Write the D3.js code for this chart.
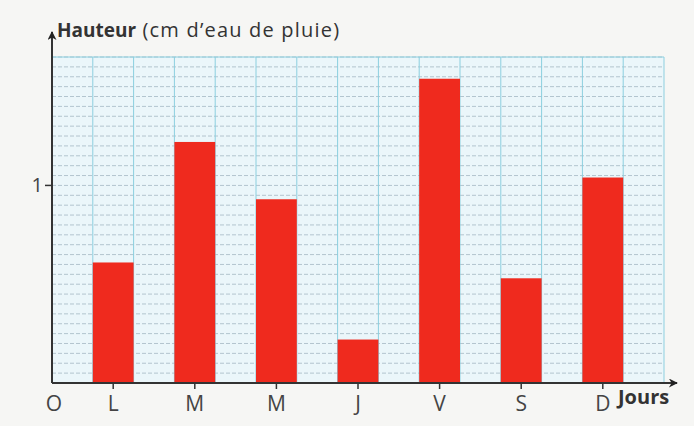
<!DOCTYPE html>
<html>
<head>
<meta charset="utf-8">
<script src="https://cdn.jsdelivr.net/npm/d3@7"></script>
<style>
  body { margin: 0; background: #f6f6f4; }
  svg { display: block; font-family: "Open Sans", "Noto Sans", sans-serif; }
</style>
</head>
<body>
<div id="chart-area"></div>
<script>
// jours de la semaine et hauteur de pluie (cm)
let days = ["Lundi", "Mardi", "Mercredi", "Jeudi", "Vendredi", "Samedi", "Dimanche"];
let dayLabels = ["L", "M", "M", "J", "V", "S", "D"];
let rain = [0.61, 1.22, 0.93, 0.22, 1.54, 0.53, 1.04];
let yTicks = [1];

let width = 694, height = 426;
let plot = {left: 52, right: 664, bottom: 383, top: 57};

let svg = d3.select("#chart-area")
  .append("svg")
  .attr("width", width)
  .attr("height", height);

let x = d3.scaleBand().domain(days).range([plot.left, plot.right]).padding(0.5);
let y = d3.scaleLinear().domain([0, 1.65]).range([plot.bottom, plot.top]);

// fond du quadrillage
svg.append("rect")
  .attr("x", plot.left).attr("y", plot.top)
  .attr("width", plot.right - plot.left).attr("height", plot.bottom - plot.top)
  .attr("fill", "#ebf6fa");

// lignes horizontales pointillées (tous les 0,05 cm)
let hLines = d3.range(1, 34).map(i => i * 0.05);
svg.selectAll(".hline")
  .data(hLines)
  .enter().append("line")
  .attr("class", "hline")
  .attr("x1", plot.left).attr("x2", plot.right)
  .attr("y1", d => y(d)).attr("y2", d => y(d))
  .attr("stroke", "#8fa5b3")
  .attr("stroke-width", 1)
  .attr("stroke-dasharray", "4,2")
  .attr("opacity", 0.6);

// lignes verticales (demi-pas de la bande)
let step = x.step() / 2;
let vLines = d3.range(1, 16).map(i => plot.left + i * step);
svg.selectAll(".vline")
  .data(vLines)
  .enter().append("line")
  .attr("class", "vline")
  .attr("x1", d => d).attr("x2", d => d)
  .attr("y1", plot.top).attr("y2", plot.bottom)
  .attr("stroke", "#8ccfdf")
  .attr("stroke-width", 1);

svg.append("line")
  .attr("x1", plot.left).attr("x2", plot.right)
  .attr("y1", plot.top).attr("y2", plot.top)
  .attr("stroke", "#8ccfdf");

// barres
svg.selectAll(".bar")
  .data(rain)
  .enter().append("rect")
  .attr("class", "bar")
  .attr("x", (d, i) => x(days[i]))
  .attr("y", d => y(d))
  .attr("width", x.bandwidth())
  .attr("height", d => plot.bottom - y(d))
  .attr("fill", "#ef2a1e");

// axes avec flèches
svg.append("defs").append("marker")
  .attr("id", "arrow")
  .attr("viewBox", "0 0 10 10")
  .attr("refX", 9).attr("refY", 5)
  .attr("markerWidth", 12).attr("markerHeight", 9)
  .attr("markerUnits", "userSpaceOnUse")
  .attr("orient", "auto")
  .append("path")
  .attr("d", "M0,0 L10,5 L0,10 L3,5 Z")
  .attr("fill", "#222");

svg.append("line")
  .attr("x1", plot.left).attr("y1", plot.bottom)
  .attr("x2", plot.left).attr("y2", 32)
  .attr("stroke", "#333").attr("stroke-width", 2)
  .attr("marker-end", "url(#arrow)");

svg.append("line")
  .attr("x1", plot.left).attr("y1", plot.bottom)
  .attr("x2", 677).attr("y2", plot.bottom)
  .attr("stroke", "#333").attr("stroke-width", 2)
  .attr("marker-end", "url(#arrow)");

// graduation de l'axe des ordonnées
svg.selectAll(".ytick")
  .data(yTicks)
  .enter().append("line")
  .attr("x1", plot.left - 7).attr("x2", plot.left)
  .attr("y1", d => y(d)).attr("y2", d => y(d))
  .attr("stroke", "#333").attr("stroke-width", 1.5);

svg.selectAll(".ylabel")
  .data(yTicks)
  .enter().append("text")
  .attr("x", plot.left - 9)
  .attr("y", d => y(d))
  .attr("dy", "0.35em")
  .attr("text-anchor", "end")
  .attr("font-size", 20)
  .attr("fill", "#444")
  .text(d => d);

// graduations et étiquettes des jours
svg.selectAll(".xtick")
  .data(days)
  .enter().append("line")
  .attr("x1", d => x(d) + x.bandwidth() / 2)
  .attr("x2", d => x(d) + x.bandwidth() / 2)
  .attr("y1", plot.bottom).attr("y2", plot.bottom + 6)
  .attr("stroke", "#333").attr("stroke-width", 1.5);

svg.selectAll(".xlabel")
  .data(days)
  .enter().append("text")
  .attr("x", d => x(d) + x.bandwidth() / 2)
  .attr("y", 411)
  .attr("text-anchor", "middle")
  .attr("font-size", 21)
  .attr("fill", "#444")
  .text((d, i) => dayLabels[i]);

svg.append("text")
  .attr("x", plot.left + 2).attr("y", 411)
  .attr("text-anchor", "middle")
  .attr("font-size", 21)
  .attr("fill", "#444")
  .text("O");

svg.append("text")
  .attr("x", 618).attr("y", 404)
  .attr("font-size", 20)
  .attr("font-weight", "bold")
  .attr("fill", "#333")
  .text("Jours");

let title = svg.append("text")
  .attr("x", 57).attr("y", 37)
  .attr("font-size", 19)
  .attr("fill", "#333");
title.append("tspan").attr("font-weight", "bold").text("Hauteur");
title.append("tspan")
  .attr("font-size", 20)
  .attr("letter-spacing", 1.2)
  .text(" (cm d\u2019eau de pluie)");
</script>
</body>
</html>
